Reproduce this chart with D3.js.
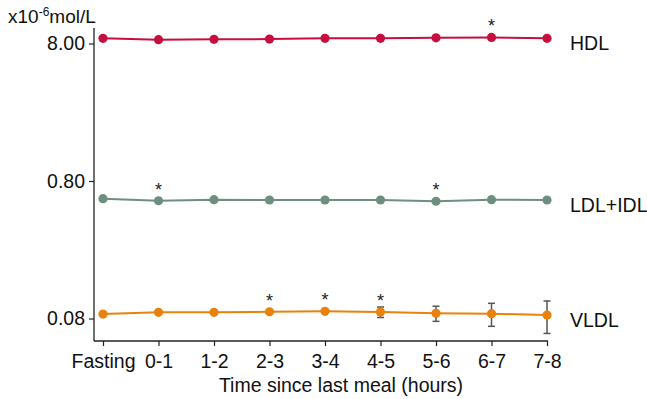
<!DOCTYPE html>
<html>
<head>
<meta charset="utf-8">
<script src="https://cdn.jsdelivr.net/npm/d3@7"></script>
<style>
  html, body { margin: 0; padding: 0; background: #fff; }
  svg { display: block; font-family: "Liberation Sans", Arial, sans-serif; }
</style>
</head>
<body>
<svg id="chart" width="647" height="399"></svg>
<script>
// ---- data ----
const categories = ["Fasting", "0-1", "1-2", "2-3", "3-4", "4-5", "5-6", "6-7", "7-8"];
const seriesNames = ["HDL", "LDL+IDL", "VLDL"];
const hdlValues  = [8.73, 8.53, 8.58, 8.61, 8.73, 8.73, 8.80, 8.85, 8.73];
const ldlValues  = [0.595, 0.575, 0.585, 0.582, 0.582, 0.582, 0.570, 0.585, 0.582];
const vldlValues = [0.0862, 0.0887, 0.0887, 0.0896, 0.0902, 0.0892, 0.0873, 0.0867, 0.0848];
const hdlErrors  = [0.03, 0.03, 0.03, 0.03, 0.03, 0.03, 0.03, 0.03, 0.03];
const ldlErrors  = [0.003, 0.003, 0.003, 0.003, 0.003, 0.003, 0.003, 0.003, 0.003];
const vldlErrors = [0.001, 0.005, 0.002, 0.002, 0.002, 0.0078, 0.011, 0.0165, 0.0225];
const hdlStars  = [false, false, false, false, false, false, false, true, false];
const ldlStars  = [false, true, false, false, false, false, true, false, false];
const vldlStars = [false, false, false, true, true, true, false, false, false];
const yTickValues = [0.08, 0.8, 8];
const yDomain = [0.0549, 10.37];
const xTitle = "Time since last meal (hours)";

const colors = ["#c70f3d", "#6e8f80", "#e8820c"];

const series = [
  { name: seriesNames[0], values: hdlValues, errors: hdlErrors, stars: hdlStars, color: colors[0] },
  { name: seriesNames[1], values: ldlValues, errors: ldlErrors, stars: ldlStars, color: colors[1] },
  { name: seriesNames[2], values: vldlValues, errors: vldlErrors, stars: vldlStars, color: colors[2] }
];

// ---- layout ----
const svg = d3.select("#chart");
const axisX0 = 94, axisYTop = 28, axisYBottom = 341;

const x = d3.scalePoint().domain(categories).range([103, 547]);
const y = d3.scaleLog().domain(yDomain).range([axisYBottom, axisYTop]);

// axes
const yAxis = svg.append("g")
  .attr("transform", `translate(${axisX0},0)`)
  .call(d3.axisLeft(y).tickValues(yTickValues).tickFormat(d3.format(".2f")).tickSize(5).tickSizeOuter(0));
yAxis.select(".domain").remove();
yAxis.selectAll(".tick line").attr("stroke", "#222").attr("stroke-width", 1.2);
yAxis.selectAll(".tick text").attr("font-size", 19.5).attr("fill", "#111").attr("font-family", "Liberation Sans, Arial, sans-serif").attr("x", -9);

const xAxis = svg.append("g")
  .attr("transform", `translate(0,${axisYBottom})`)
  .call(d3.axisBottom(x).tickSize(5).tickSizeOuter(0));
xAxis.select(".domain").remove();
xAxis.selectAll(".tick line").attr("stroke", "#222").attr("stroke-width", 1.2);
xAxis.selectAll(".tick text").attr("font-size", 19.5).attr("fill", "#111").attr("font-family", "Liberation Sans, Arial, sans-serif").attr("y", 13);

svg.append("line")
  .attr("x1", axisX0).attr("x2", axisX0)
  .attr("y1", axisYTop).attr("y2", axisYBottom)
  .attr("stroke", "#222").attr("stroke-width", 1.3);
svg.append("line")
  .attr("x1", axisX0).attr("x2", x(categories[categories.length - 1]) + 1)
  .attr("y1", axisYBottom).attr("y2", axisYBottom)
  .attr("stroke", "#222").attr("stroke-width", 1.3);

// y unit label
const unit = svg.append("text")
  .attr("x", 8).attr("y", 23)
  .attr("font-size", 19).attr("fill", "#111");
unit.append("tspan").text("x10");
unit.append("tspan").attr("font-size", 12).attr("dy", -7).text("-6");
unit.append("tspan").attr("dy", 7).text("mol/L");

// x title
svg.append("text")
  .attr("x", 341).attr("y", 392)
  .attr("text-anchor", "middle")
  .attr("font-size", 19.5).attr("fill", "#111")
  .text(xTitle);

// series
const line = d3.line().x((d, i) => x(categories[i])).y(d => y(d));

series.forEach(s => {
  const g = svg.append("g");
  g.append("path")
    .datum(s.values)
    .attr("d", line)
    .attr("fill", "none")
    .attr("stroke", s.color)
    .attr("stroke-width", 2);

  // error bars
  s.values.forEach((v, i) => {
    const cx = x(categories[i]);
    const yT = y(v + s.errors[i]), yB = y(v - s.errors[i]);
    if (yB - yT > 7) {
      g.append("line").attr("x1", cx).attr("x2", cx).attr("y1", yT).attr("y2", yB)
        .attr("stroke", "#555").attr("stroke-width", 1.5);
      [yT, yB].forEach(yy => g.append("line")
        .attr("x1", cx - 3.5).attr("x2", cx + 3.5).attr("y1", yy).attr("y2", yy)
        .attr("stroke", "#555").attr("stroke-width", 1.5));
    }
  });

  g.selectAll("circle")
    .data(s.values)
    .join("circle")
    .attr("cx", (d, i) => x(categories[i]))
    .attr("cy", d => y(d))
    .attr("r", 4.6)
    .attr("fill", s.color);

  // significance stars
  s.values.forEach((v, i) => {
    if (s.stars[i]) {
      g.append("text")
        .attr("x", x(categories[i]))
        .attr("y", y(v) - 5)
        .attr("text-anchor", "middle")
        .attr("font-size", 18).attr("fill", "#222")
        .text("*");
    }
  });

  // series label
  svg.append("text")
    .attr("x", 570)
    .attr("y", y(s.values[s.values.length - 1]) + 12)
    .attr("font-size", 19.5).attr("fill", "#111")
    .text(s.name);
});
</script>
</body>
</html>
